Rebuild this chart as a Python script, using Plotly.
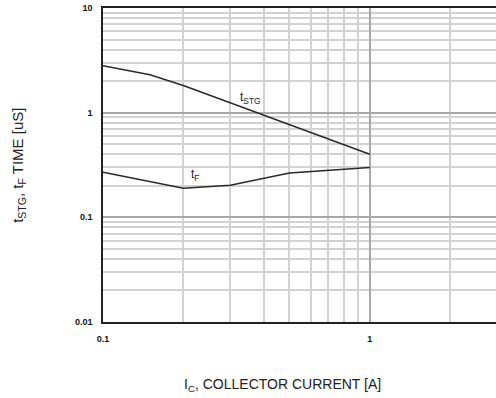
import plotly.graph_objects as go
import numpy as np

ic_stg = [0.1, 0.15, 0.2, 1.0]
t_stg = [2.8, 2.3, 1.82, 0.4]
ic_f = [0.1, 0.2, 0.3, 0.5, 1.0]
t_f = [0.27, 0.19, 0.203, 0.265, 0.30]

x_major = [0.1, 1]
x_major_text = ["0.1", "1"]
x_minor = [0.2, 0.3, 0.4, 0.5, 0.6, 0.7, 0.8, 0.9, 2]
y_major = [0.01, 0.1, 1, 10]
y_major_text = ["0.01", "0.1", "1", "10"]
y_minor = [m * d for d in [0.01, 0.1, 1] for m in range(2, 10)]

fig = go.Figure()
line = dict(color="#2a2a2a", width=1.5)
fig.add_trace(go.Scatter(x=ic_stg, y=t_stg, mode="lines", line=line, showlegend=False))
fig.add_trace(go.Scatter(x=ic_f, y=t_f, mode="lines", line=line, showlegend=False))

font_lbl = dict(family="Liberation Sans, Arial, sans-serif", size=12, color="#222")
fig.add_annotation(x=np.log10(0.32), y=np.log10(1.38), text="t<sub>STG</sub>", showarrow=False,
                   xanchor="left", yanchor="middle", font=font_lbl)
fig.add_annotation(x=np.log10(0.21), y=np.log10(0.253), text="t<sub>F</sub>", showarrow=False,
                   xanchor="left", yanchor="middle", font=font_lbl)

tickfont = dict(family="Liberation Sans, Arial, sans-serif", size=9, color="#111", weight="bold")
fig.update_xaxes(type="log", range=[-1, 0.473], tickvals=x_major, ticktext=x_major_text,
                 tickfont=tickfont, showgrid=True, gridcolor="#a8a8a8", gridwidth=1.5,
                 minor=dict(tickvals=x_minor, showgrid=True, gridcolor="#d2d2d2", gridwidth=1.5, ticks=""),
                 showline=True, linecolor="#222", linewidth=1.5, mirror=True, ticks="",
                 ticklabelstandoff=7, zeroline=False, automargin=False)
fig.update_yaxes(type="log", range=[-2, 1], tickvals=y_major, ticktext=y_major_text,
                 tickfont=tickfont, showgrid=True, gridcolor="#a8a8a8", gridwidth=1.5,
                 minor=dict(tickvals=y_minor, showgrid=True, gridcolor="#d2d2d2", gridwidth=1.5, ticks=""),
                 showline=True, linecolor="#222", linewidth=1.5, ticks="",
                 ticklabelstandoff=7, zeroline=False, automargin=False)

fig.add_annotation(xref="paper", yref="paper", x=-0.246, y=0.50, textangle=-90,
                   text="t<sub>STG</sub>, t<sub>F</sub> TIME [uS]", showarrow=False,
                   font=dict(family="Liberation Sans, Arial, sans-serif", size=15, color="#222"))
fig.add_annotation(xref="paper", yref="paper", x=0.458, y=-0.236,
                   text="I<sub>C</sub>, COLLECTOR CURRENT [A]", showarrow=False,
                   font=dict(family="Liberation Sans, Arial, sans-serif", size=14, color="#222"))

fig.update_layout(width=496, height=398, margin=dict(l=103, r=0, t=8, b=76),
                  plot_bgcolor="white", paper_bgcolor="white")
fig.write_html("out.html", config={"displayModeBar": False},
               post_script="document.body.style.margin='0';")
